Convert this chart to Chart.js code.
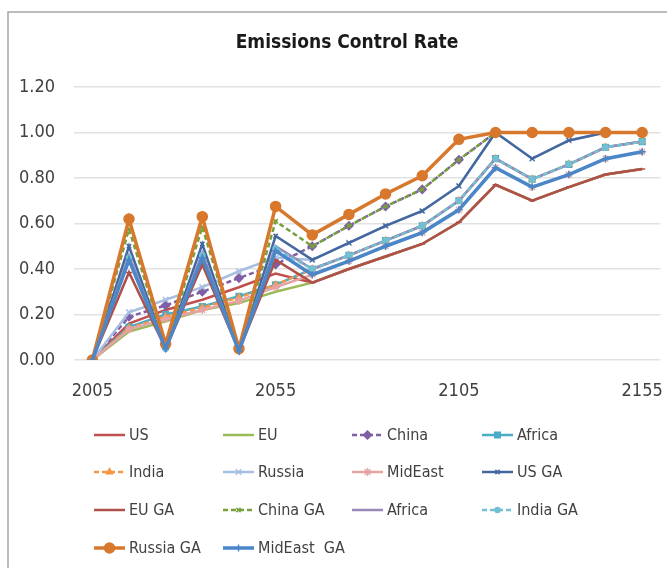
<!DOCTYPE html>
<html>
<head>
<meta charset="utf-8">
<script src="https://cdn.jsdelivr.net/npm/chart.js@4/dist/chart.umd.min.js"></script>
<style>
  html, body { margin: 0; padding: 0; background: #fff; }
  #chart { display: block; }
</style>
</head>
<body>
<canvas id="chart" width="667" height="568"></canvas>
<script>
// years on the x axis, one point every 10 years
const years = [2005, 2015, 2025, 2035, 2045, 2055, 2065, 2075, 2085, 2095, 2105, 2115, 2125, 2135, 2145, 2155];
const xTickLabels = ['2005', '2055', '2105', '2155'];
const yTicks = [0, 0.2, 0.4, 0.6, 0.8, 1.0, 1.2];

const us        = [0, 0.16, 0.22, 0.265, 0.32, 0.38, 0.34, 0.40, 0.455, 0.51, 0.605, 0.77, 0.70, 0.76, 0.815, 0.84];
const eu        = [0, 0.125, 0.17, 0.22, 0.25, 0.30, 0.34, 0.40, 0.455, 0.51, 0.605, 0.77, 0.70, 0.76, 0.815, 0.84];
const china     = [0, 0.19, 0.24, 0.30, 0.36, 0.42, 0.50, 0.59, 0.675, 0.75, 0.88, 1, 1, 1, 1, 1];
const africa    = [0, 0.145, 0.20, 0.235, 0.28, 0.33, 0.40, 0.46, 0.525, 0.59, 0.70, 0.885, 0.795, 0.86, 0.935, 0.96];
const india     = [0, 0.14, 0.19, 0.23, 0.275, 0.33, 0.40, 0.46, 0.525, 0.59, 0.70, 0.885, 0.795, 0.86, 0.935, 0.96];
const russia    = [0, 0.21, 0.265, 0.32, 0.39, 0.45, 0.44, 0.515, 0.59, 0.655, 0.765, 1, 0.885, 0.965, 1, 1];
const midEast   = [0, 0.135, 0.18, 0.22, 0.26, 0.32, 0.375, 0.435, 0.50, 0.56, 0.66, 0.845, 0.76, 0.815, 0.885, 0.915];
const usGA      = [0, 0.50, 0.05, 0.51, 0.04, 0.545, 0.44, 0.515, 0.59, 0.655, 0.765, 1, 0.885, 0.965, 1, 1];
const euGA      = [0, 0.385, 0.05, 0.42, 0.04, 0.44, 0.34, 0.40, 0.455, 0.51, 0.605, 0.77, 0.70, 0.76, 0.815, 0.84];
const chinaGA   = [0, 0.575, 0.06, 0.585, 0.05, 0.61, 0.50, 0.59, 0.675, 0.75, 0.88, 1, 1, 1, 1, 1];
const africaGA  = [0, 0.46, 0.05, 0.47, 0.04, 0.50, 0.40, 0.46, 0.525, 0.59, 0.70, 0.885, 0.795, 0.86, 0.935, 0.96];
const indiaGA   = [0, 0.45, 0.05, 0.46, 0.04, 0.49, 0.40, 0.46, 0.525, 0.59, 0.70, 0.885, 0.795, 0.86, 0.935, 0.96];
const russiaGA  = [0, 0.62, 0.07, 0.63, 0.05, 0.675, 0.55, 0.64, 0.73, 0.81, 0.97, 1, 1, 1, 1, 1];
const midEastGA = [0, 0.44, 0.05, 0.45, 0.04, 0.48, 0.375, 0.435, 0.50, 0.56, 0.66, 0.845, 0.76, 0.815, 0.885, 0.915];

const FONT = "'DejaVu Sans Condensed', 'Liberation Sans Narrow', 'Liberation Sans', sans-serif";

const series = (label, data, color, extra = {}) => ({
  label,
  data,
  borderColor: color,
  backgroundColor: color,
  pointBackgroundColor: color,
  pointBorderColor: color,
  borderWidth: 2.5,
  pointRadius: 0,
  pointBorderWidth: 1.5,
  tension: 0,
  fill: false,
  ...extra
});

const datasets = [
  series('US', us, '#c0504d'),
  series('EU', eu, '#9bbb59'),
  series('China', china, '#7f5fa5', { borderDash: [5, 3], pointStyle: 'rectRot', pointRadius: 4 }),
  series('Africa', africa, '#4bacc6', { pointStyle: 'rect', pointRadius: 4 }),
  series('India', india, '#f79646', { borderDash: [5, 3], pointStyle: 'triangle', pointRadius: 3.5 }),
  series('Russia', russia, '#a7bfe0', { pointStyle: 'crossRot', pointRadius: 4 }),
  series('MidEast', midEast, '#e6a3a3', { pointStyle: 'star', pointRadius: 4 }),
  series('US GA', usGA, '#44679f', { pointStyle: 'crossRot', pointRadius: 3 }),
  series('EU GA', euGA, '#b0504a', { pointStyle: 'line', pointRadius: 3 }),
  series('China GA', chinaGA, '#77a03c', { borderDash: [5, 3], pointStyle: 'crossRot', pointRadius: 3 }),
  series('Africa', africaGA, '#9b87b8'),
  series('India GA', indiaGA, '#71c0d4', { borderDash: [5, 3], pointStyle: 'circle', pointRadius: 2.5 }),
  series('Russia GA', russiaGA, '#d8782c', { borderWidth: 3.5, pointStyle: 'circle', pointRadius: 5 }),
  series('MidEast  GA', midEastGA, '#4a86c8', { borderWidth: 3.5, pointStyle: 'cross', pointRadius: 3.5 })
];
// Excel draws later series on top
datasets.forEach((d, i) => { d.order = datasets.length - i; });

const framePlugin = {
  id: 'frame',
  beforeDraw(chart) {
    const ctx = chart.ctx;
    ctx.save();
    ctx.fillStyle = '#fff';
    ctx.fillRect(0, 0, chart.width, chart.height);
    ctx.restore();
  },
  afterDraw(chart) {
    const ctx = chart.ctx;
    ctx.save();
    // outer chart border (only top and left are inside the picture)
    ctx.strokeStyle = '#a6a6a6';
    ctx.lineWidth = 1.5;
    ctx.beginPath();
    ctx.moveTo(8, chart.height);
    ctx.lineTo(8, 12);
    ctx.lineTo(chart.width, 12);
    ctx.stroke();

    // title
    ctx.fillStyle = '#1a1a1a';
    ctx.font = `bold 19px ${FONT}`;
    ctx.textAlign = 'center';
    ctx.textBaseline = 'middle';
    ctx.fillText('Emissions Control Rate', 347, 43);

    // legend, 4 columns
    const colX = [129, 258, 387, 517];
    const rowY = [435, 472, 510, 548];
    ctx.font = `16px ${FONT}`;
    ctx.textAlign = 'left';
    chart.data.datasets.forEach((ds, i) => {
      const tx = colX[i % 4];
      const ty = rowY[Math.floor(i / 4)];
      const x0 = tx - 35, x1 = tx - 4;
      ctx.strokeStyle = ds.borderColor;
      ctx.lineWidth = ds.borderWidth;
      ctx.setLineDash(ds.borderDash || []);
      ctx.beginPath();
      ctx.moveTo(x0, ty);
      ctx.lineTo(x1, ty);
      ctx.stroke();
      ctx.setLineDash([]);
      if (ds.pointRadius > 0 && Chart.helpers && Chart.helpers.drawPoint) {
        ctx.fillStyle = ds.borderColor;
        ctx.strokeStyle = ds.borderColor;
        ctx.lineWidth = ds.pointBorderWidth;
        Chart.helpers.drawPoint(ctx, {
          pointStyle: ds.pointStyle,
          radius: ds.pointRadius,
          rotation: 0,
          borderWidth: ds.pointBorderWidth
        }, (x0 + x1) / 2, ty);
      }
      ctx.fillStyle = '#404040';
      ctx.fillText(ds.label, tx, ty + 1);
    });
    ctx.restore();
  }
};

new Chart(document.getElementById('chart'), {
  type: 'line',
  data: { labels: years.map(String), datasets },
  options: {
    responsive: false,
    animation: false,
    layout: { padding: { top: 87, left: 0, right: 0, bottom: 0 } },
    plugins: {
      legend: { display: false },
      title: { display: false },
      tooltip: { enabled: false }
    },
    scales: {
      x: {
        offset: true,
        grid: { display: true, drawOnChartArea: false, drawTicks: true, tickLength: 19, tickColor: 'rgba(0,0,0,0)' },
        border: { display: false },
        afterFit: (scale) => { scale.height = 208; },
        ticks: {
          autoSkip: false,
          maxRotation: 0,
          padding: 2,
          color: '#404040',
          font: { family: FONT, size: 18 },
          callback: (v, i) => (xTickLabels.includes(String(years[i])) ? String(years[i]) : '')
        }
      },
      y: {
        min: 0,
        max: 1.2,
        afterFit: (scale) => { scale.width = 74; },
        afterBuildTicks: (scale) => { scale.ticks = yTicks.map((v) => ({ value: v })); },
        grid: { color: '#e2e2e2', lineWidth: 1.5, drawTicks: false },
        border: { display: false },
        ticks: {
          padding: 19,
          color: '#404040',
          font: { family: FONT, size: 18 },
          callback: (v) => Number(v).toFixed(2)
        }
      }
    }
  },
  plugins: [framePlugin]
});
</script>
</body>
</html>
